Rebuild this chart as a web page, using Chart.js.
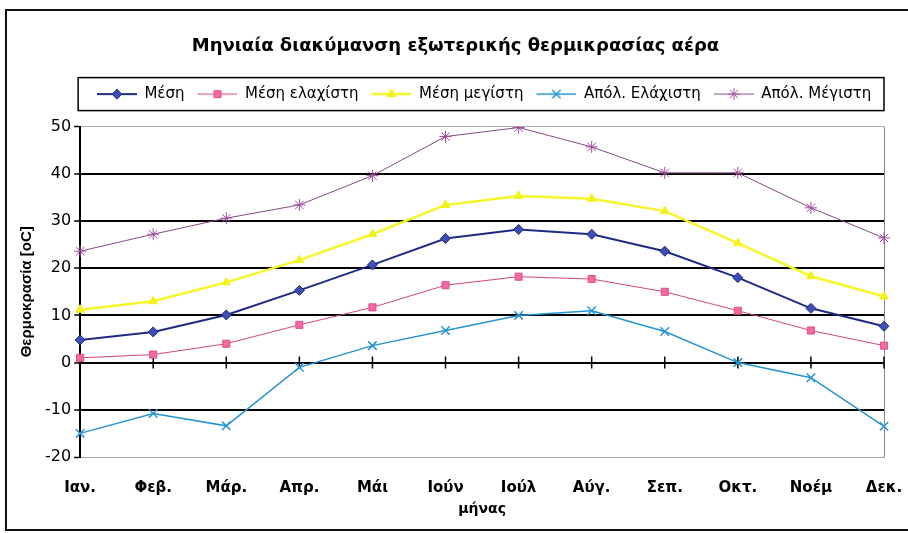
<!DOCTYPE html>
<html>
<head>
<meta charset="utf-8">
<title>Μηνιαία διακύμανση εξωτερικής θερμικρασίας αέρα</title>
<script src="https://cdn.jsdelivr.net/npm/chart.js@4.4.0/dist/chart.umd.min.js"></script>
<style>
    html, body { margin: 0; padding: 0; background: #fff; }
</style>
</head>
<body>
<canvas id="tempChart" width="908" height="533"></canvas>
<script>
const months = ['Ιαν.', 'Φεβ.', 'Μάρ.', 'Απρ.', 'Μάι', 'Ιούν', 'Ιούλ', 'Αύγ.', 'Σεπ.', 'Οκτ.', 'Νοέμ', 'Δεκ.'];
const meanTemp = [4.8, 6.5, 10.1, 15.3, 20.7, 26.3, 28.2, 27.2, 23.6, 18.0, 11.5, 7.7];
const meanMin = [1.0, 1.7, 4.0, 8.0, 11.7, 16.4, 18.2, 17.7, 15.0, 11.0, 6.8, 3.6];
const meanMax = [11.2, 13.0, 17.0, 21.7, 27.2, 33.4, 35.3, 34.7, 32.1, 25.3, 18.3, 14.0];
const absMin = [-15.0, -10.8, -13.4, -1.0, 3.6, 6.8, 10.0, 11.0, 6.6, 0.0, -3.2, -13.5];
const absMax = [23.6, 27.2, 30.6, 33.4, 39.6, 47.9, 49.8, 45.7, 40.2, 40.2, 32.8, 26.4];
const yTicks = { min: -20, max: 50, step: 10 };

const wideFont = "'DejaVu Sans', sans-serif";
const narrowFont = "'Liberation Sans', Arial, sans-serif";

// legend icon: a short piece of line with the marker in the middle, like Excel does
// (a few blank pixels on the left keep the items spread out like the original)
function legendIcon(ds) {
    const c = document.createElement('canvas');
    c.width = 44;
    c.height = 14;
    const g = c.getContext('2d');
    g.strokeStyle = ds.borderColor;
    g.lineWidth = ds.borderWidth;
    g.beginPath();
    g.moveTo(4, 7);
    g.lineTo(44, 7);
    g.stroke();
    g.fillStyle = ds.pointBackgroundColor;
    g.strokeStyle = ds.pointBorderColor;
    g.lineWidth = ds.pointBorderWidth;
    Chart.helpers.drawPoint(g, {
        pointStyle: ds.pointStyle,
        radius: ds.pointRadius,
        borderWidth: ds.pointBorderWidth,
        rotation: 0
    }, 24, 7);
    return c;
}

const datasets = [
    {
        label: 'Μέση',
        data: meanTemp,
        borderColor: '#1f2a86',
        borderWidth: 2,
        pointStyle: 'rectRot',
        pointRadius: 5,
        pointBackgroundColor: '#3d4fb0',
        pointBorderColor: '#1f2a86',
        pointBorderWidth: 1
    },
    {
        label: 'Μέση ελαχίστη',
        data: meanMin,
        borderColor: '#d2457e',
        borderWidth: 1,
        pointStyle: 'rect',
        pointRadius: 5,
        pointBackgroundColor: '#f06aa0',
        pointBorderColor: '#e0508a',
        pointBorderWidth: 1
    },
    {
        label: 'Μέση μεγίστη',
        data: meanMax,
        borderColor: '#f6f62a',
        borderWidth: 2.5,
        pointStyle: 'triangle',
        pointRadius: 5,
        pointBackgroundColor: '#f2f21c',
        pointBorderColor: '#f2f21c',
        pointBorderWidth: 1
    },
    {
        label: 'Απόλ. Ελάχιστη',
        data: absMin,
        borderColor: '#2794d2',
        borderWidth: 1.5,
        pointStyle: 'crossRot',
        pointRadius: 6,
        pointBackgroundColor: '#2794d2',
        pointBorderColor: '#2794d2',
        pointBorderWidth: 1.5
    },
    {
        label: 'Απόλ. Μέγιστη',
        data: absMax,
        borderColor: '#854a86',
        borderWidth: 1,
        pointStyle: 'star',
        pointRadius: 6,
        pointBackgroundColor: '#a04c9e',
        pointBorderColor: '#a04c9e',
        pointBorderWidth: 1
    }
];
datasets.forEach(ds => { ds.tension = 0; ds.fill = false; });
const icons = datasets.map(legendIcon);

// extra room under the legend row
const legendSpace = {
    id: 'legendSpace',
    beforeInit(chart) {
        if (!chart.legend) return;
        const origFit = chart.legend.fit;
        chart.legend.fit = function () {
            origFit.call(this);
            this.height += 15;
        };
    }
};

// outer frame, legend box and the crossing tick marks on the 0 line
const decorations = {
    id: 'decorations',
    beforeDraw(chart) {
        const ctx = chart.ctx;
        ctx.save();
        ctx.strokeStyle = '#111';
        ctx.lineWidth = 2;
        ctx.beginPath();
        ctx.moveTo(chart.width, 10);
        ctx.lineTo(6, 10);
        ctx.lineTo(6, chart.height - 3);
        ctx.lineTo(chart.width, chart.height - 3);
        ctx.stroke();
        ctx.restore();
    },
    beforeDatasetsDraw(chart) {
        const ctx = chart.ctx;
        const x = chart.scales.x;
        const y0 = chart.scales.y.getPixelForValue(0);
        ctx.save();
        ctx.strokeStyle = '#000';
        ctx.lineWidth = 1.5;
        ctx.beginPath();
        months.forEach((m, i) => {
            const px = x.getPixelForValue(i);
            ctx.moveTo(px, y0 - 6);
            ctx.lineTo(px, y0 + 6);
        });
        ctx.stroke();
        ctx.restore();
    },
    afterDraw(chart) {
        const ctx = chart.ctx;
        const area = chart.chartArea;
        const hit = chart.legend.legendHitBoxes[0];
        const cy = hit.top + hit.height / 2;
        ctx.save();
        ctx.strokeStyle = '#000';
        ctx.lineWidth = 1.5;
        ctx.strokeRect(area.left - 2, cy - 16.5, area.right - area.left + 2, 33);
        ctx.restore();
    }
};

const ctx = document.getElementById('tempChart').getContext('2d');

const tempChart = new Chart(ctx, {
    type: 'line',
    data: {
        labels: months,
        datasets: datasets
    },
    options: {
        responsive: false,
        animation: false,
        devicePixelRatio: 1,
        layout: {
            padding: { top: 10, left: 14, right: 11, bottom: 15 }
        },
        plugins: {
            title: {
                display: true,
                text: 'Μηνιαία διακύμανση εξωτερικής θερμικρασίας αέρα',
                color: '#000',
                font: { family: wideFont, size: 18, weight: 'bold' },
                padding: { top: 26, bottom: 20 }
            },
            legend: {
                display: true,
                fullSize: false,
                labels: {
                    color: '#000',
                    font: { family: wideFont, size: 15 },
                    usePointStyle: true,
                    pointStyleWidth: 44,
                    padding: 9,
                    generateLabels(chart) {
                        return Chart.defaults.plugins.legend.labels.generateLabels(chart)
                            .map((item, i) => ({ ...item, pointStyle: icons[i] }));
                    }
                }
            },
            tooltip: { enabled: false }
        },
        scales: {
            x: {
                offset: false,
                afterFit(scale) {
                    scale.height = 61;
                    scale.paddingLeft = 0;
                    scale.paddingRight = 24;
                },
                grid: {
                    drawTicks: false,
                    color: c => c.index === months.length - 1 ? '#8a8a8a' : 'rgba(0,0,0,0)',
                    lineWidth: 1
                },
                border: { color: '#a8a8a8', width: 1 },
                ticks: {
                    color: '#000',
                    padding: 22,
                    maxRotation: 0,
                    autoSkip: false,
                    font: { family: wideFont, size: 15, weight: 'bold' }
                },
                title: {
                    display: true,
                    text: 'μήνας',
                    color: '#000',
                    font: { family: wideFont, size: 14, weight: 'bold' },
                    padding: { top: 2, bottom: 0 }
                }
            },
            y: {
                min: yTicks.min,
                max: yTicks.max,
                grid: {
                    color: c => (c.tick.value === yTicks.max || c.tick.value === yTicks.min) ? '#b0b0b0' : '#000',
                    lineWidth: c => (c.tick.value === yTicks.max || c.tick.value === yTicks.min) ? 1 : 2,
                    tickLength: 6,
                    tickColor: '#000',
                    tickWidth: 1.5
                },
                border: { color: '#000', width: 2 },
                ticks: {
                    stepSize: yTicks.step,
                    color: '#000',
                    padding: 3,
                    font: { family: wideFont, size: 16 }
                },
                title: {
                    display: true,
                    text: 'Θερμοκρασία [οC]',
                    color: '#000',
                    font: { family: narrowFont, size: 15, weight: 'bold' },
                    padding: { top: 4, bottom: 6 }
                }
            }
        }
    },
    plugins: [legendSpace, decorations]
});
</script>
</body>
</html>
